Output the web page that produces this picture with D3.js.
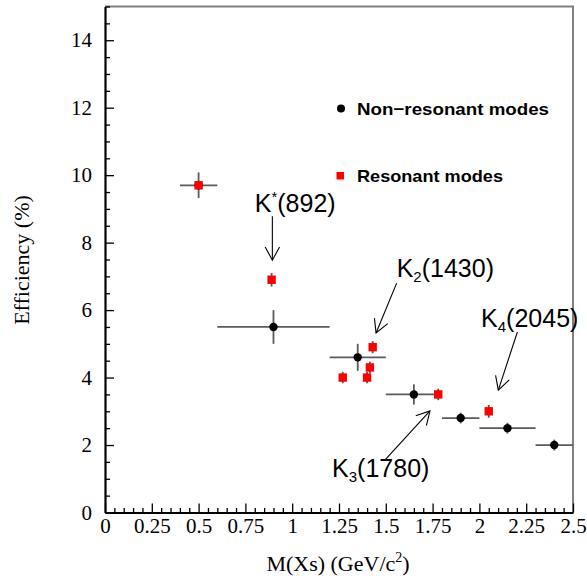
<!DOCTYPE html>
<html>
<head>
<meta charset="utf-8">
<script src="https://cdn.jsdelivr.net/npm/d3@7"></script>
<style>
  html, body { margin: 0; padding: 0; background: #fff; }
  svg { display: block; }
</style>
</head>
<body>
<svg id="chart" width="587" height="581"></svg>
<script>
const xTicks = [0, 0.25, 0.5, 0.75, 1, 1.25, 1.5, 1.75, 2, 2.25, 2.5];
const yTicks = [0, 2, 4, 6, 8, 10, 12, 14];

// non-resonant modes: bin centre, bin edges, efficiency and its error
const nonresX = [0.5, 0.9, 1.35, 1.65, 1.9, 2.15, 2.4];
const nonresXlo = [0.4, 0.6, 1.2, 1.5, 1.8, 2.0, 2.3];
const nonresXhi = [0.6, 1.2, 1.5, 1.8, 2.0, 2.3, 2.5];
const nonresY = [9.7, 5.5, 4.6, 3.5, 2.8, 2.5, 2.0];
const nonresErr = [0.38, 0.5, 0.4, 0.3, 0.16, 0.16, 0.16];

// resonant modes
const resX = [0.5, 0.89, 1.27, 1.4, 1.415, 1.43, 1.78, 2.05];
const resY = [9.7, 6.9, 4.0, 4.0, 4.3, 4.9, 3.5, 3.0];
const resErr = [0.1, 0.2, 0.17, 0.17, 0.17, 0.18, 0.17, 0.19];

// resonance labels, in data units: text anchor, arrow tail, arrow tip
const resonances = [
  { name: "K", mark: "*", markType: "sup", mass: "(892)", tx: 0.80, ty: 8.9, x1: 0.894, y1: 8.78, x2: 0.894, y2: 7.48 },
  { name: "K", mark: "2", markType: "sub", mass: "(1430)", tx: 1.558, ty: 6.98, x1: 1.558, y1: 6.8, x2: 1.448, y2: 5.32 },
  { name: "K", mark: "3", markType: "sub", mass: "(1780)", tx: 1.213, ty: 1.05, x1: 1.496, y1: 1.56, x2: 1.736, y2: 3.01 },
  { name: "K", mark: "4", markType: "sub", mass: "(2045)", tx: 2.009, ty: 5.49, x1: 2.203, y1: 5.35, x2: 2.101, y2: 3.63 },
];

const nonres = nonresX.map((v, i) => ({ x: v, lo: nonresXlo[i], hi: nonresXhi[i], y: nonresY[i], err: nonresErr[i] }));
const res = resX.map((v, i) => ({ x: v, y: resY[i], err: resErr[i] }));

const svg = d3.select("#chart");

const x = d3.scaleLinear().domain([0, 2.5]).range([105, 573]);
const y = d3.scaleLinear().domain([0, 15]).range([512.5, 6.5]);

const serif = "'Liberation Serif', 'Times New Roman', serif";
const sans = "'Liberation Sans', Arial, sans-serif";

// frame on top and right
svg.append("path")
  .attr("d", `M${x(0)},${y(15)}H${x(2.5)}V${y(0)}`)
  .attr("fill", "none")
  .attr("stroke", "#808080")
  .attr("stroke-width", 2);

// minor ticks
const xMinor = d3.range(0, 2.5001, 0.05).filter((v) => Math.abs(v / 0.25 - Math.round(v / 0.25)) > 1e-6);
const yMinor = d3.range(0, 15.001, 0.5).filter((v) => v % 2 !== 0);

svg.append("g")
  .attr("transform", `translate(0,${y(0)})`)
  .call(d3.axisBottom(x).tickValues(xMinor).tickSize(-4.5).tickSizeOuter(0).tickFormat(""))
  .call((g) => g.select(".domain").remove())
  .call((g) => g.selectAll("line").attr("stroke", "#000").attr("stroke-width", 1.3));

svg.append("g")
  .attr("transform", `translate(${x(0)},0)`)
  .call(d3.axisLeft(y).tickValues(yMinor).tickSize(-5).tickSizeOuter(0).tickFormat(""))
  .call((g) => g.select(".domain").remove())
  .call((g) => g.selectAll("line").attr("stroke", "#000").attr("stroke-width", 1.3));

// major axes
const xAxis = svg.append("g")
  .attr("transform", `translate(0,${y(0)})`)
  .call(d3.axisBottom(x).tickValues(xTicks).tickSize(-9).tickSizeOuter(0).tickPadding(5.5).tickFormat(d3.format("")));

const yAxis = svg.append("g")
  .attr("transform", `translate(${x(0)},0)`)
  .call(d3.axisLeft(y).tickValues(yTicks).tickSize(-9).tickSizeOuter(0).tickPadding(13).tickFormat(d3.format("")));

[xAxis, yAxis].forEach((g) => {
  g.select(".domain").attr("stroke", "#000").attr("stroke-width", 2.2);
  g.selectAll(".tick line").attr("stroke", "#000").attr("stroke-width", 1.3);
  g.selectAll(".tick text")
    .attr("fill", "#000")
    .attr("font-family", serif)
    .attr("font-size", 21);
});

// axis titles
const xTitle = svg.append("text")
  .attr("x", 338)
  .attr("y", 571)
  .attr("text-anchor", "middle")
  .attr("font-family", serif)
  .attr("font-size", 22)
  .attr("fill", "#000");
xTitle.append("tspan").text("M(Xs) (GeV/c");
xTitle.append("tspan").attr("dy", -9).attr("font-size", 14).text("2");
xTitle.append("tspan").attr("dy", 9).text(")");

svg.append("text")
  .attr("transform", "translate(29,260) rotate(-90)")
  .attr("text-anchor", "middle")
  .attr("font-family", serif)
  .attr("font-size", 22)
  .attr("fill", "#000")
  .text("Efficiency (%)");

// error bars
const barColor = "#5a5a5a";
const bars = svg.append("g").attr("stroke", barColor).attr("stroke-width", 1.8);

bars.selectAll(".hbar")
  .data(nonres)
  .join("line")
  .attr("x1", (d) => x(d.lo))
  .attr("x2", (d) => x(d.hi))
  .attr("y1", (d) => y(d.y))
  .attr("y2", (d) => y(d.y));

bars.selectAll(".vbar")
  .data(nonres.concat(res))
  .join("line")
  .attr("x1", (d) => x(d.x))
  .attr("x2", (d) => x(d.x))
  .attr("y1", (d) => y(d.y - d.err))
  .attr("y2", (d) => y(d.y + d.err));

// markers
svg.append("g")
  .selectAll("circle")
  .data(nonres)
  .join("circle")
  .attr("cx", (d) => x(d.x))
  .attr("cy", (d) => y(d.y))
  .attr("r", 4.2)
  .attr("fill", "#000");

svg.append("g")
  .selectAll("rect")
  .data(res)
  .join("rect")
  .attr("x", (d) => x(d.x) - 4.2)
  .attr("y", (d) => y(d.y) - 4.2)
  .attr("width", 8.4)
  .attr("height", 8.4)
  .attr("fill", "#ff0000");

// legend
svg.append("circle").attr("cx", 341).attr("cy", 108.5).attr("r", 4).attr("fill", "#000");
svg.append("rect").attr("x", 336.5).attr("y", 172).attr("width", 7.5).attr("height", 7.5).attr("fill", "#ff0000");

svg.append("text")
  .attr("x", 357).attr("y", 114.5)
  .attr("font-family", sans).attr("font-weight", "bold").attr("font-size", 17)
  .attr("textLength", 192).attr("lengthAdjust", "spacingAndGlyphs")
  .text("Non\u2212resonant modes");

svg.append("text")
  .attr("x", 357).attr("y", 181.5)
  .attr("font-family", sans).attr("font-weight", "bold").attr("font-size", 17)
  .attr("textLength", 146).attr("lengthAdjust", "spacingAndGlyphs")
  .text("Resonant modes");

// resonance labels with arrows
const ann = svg.append("g");

resonances.forEach((r) => {
  const t = ann.append("text")
    .attr("x", x(r.tx))
    .attr("y", y(r.ty))
    .attr("font-family", sans)
    .attr("font-size", 25)
    .attr("fill", "#000");
  t.append("tspan").text(r.name);
  const shift = r.markType === "sup" ? -10 : 5;
  t.append("tspan").attr("dy", shift).attr("font-size", 15).text(r.mark);
  t.append("tspan").attr("dy", -shift).text(r.mass);

  const x1 = x(r.x1), y1 = y(r.y1), x2 = x(r.x2), y2 = y(r.y2);
  const ang = Math.atan2(y2 - y1, x2 - x1);
  const len = 15, spread = 0.5;
  ann.append("line")
    .attr("x1", x1).attr("y1", y1).attr("x2", x2).attr("y2", y2)
    .attr("stroke", "#000").attr("stroke-width", 1.1);
  ann.append("path")
    .attr("d", `M${x2 - len * Math.cos(ang - spread)},${y2 - len * Math.sin(ang - spread)}L${x2},${y2}L${x2 - len * Math.cos(ang + spread)},${y2 - len * Math.sin(ang + spread)}`)
    .attr("fill", "none")
    .attr("stroke", "#000")
    .attr("stroke-width", 1.1);
});
</script>
</body>
</html>
